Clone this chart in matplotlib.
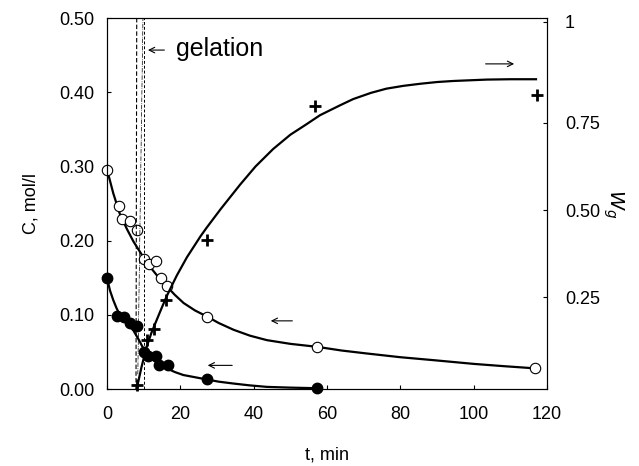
import matplotlib
matplotlib.use("Agg")
import matplotlib.pyplot as plt

plt.rcParams['font.family'] = ['Liberation Sans', 'DejaVu Sans']

# open circles - C (upper)
t_open = [0, 3.3, 4.2, 6.3, 8.2, 10.1, 11.5, 13.4, 14.7, 16.3, 27.4, 57.2, 116.7]
c_open = [0.296, 0.247, 0.229, 0.227, 0.214, 0.176, 0.168, 0.173, 0.150, 0.139, 0.097, 0.057, 0.028]

# filled circles - C (lower)
t_fill = [0, 2.8, 4.5, 6.3, 8.2, 10.1, 11.3, 13.4, 14.3, 16.5, 27.4, 57.3]
c_fill = [0.150, 0.098, 0.097, 0.089, 0.085, 0.050, 0.045, 0.045, 0.032, 0.032, 0.013, 0.001]

# crosses - gel fraction W_g
t_plus = [8.2, 10.9, 12.8, 16.1, 27.2, 56.7, 117.3]
w_plus = [0.0, 0.127, 0.159, 0.241, 0.413, 0.799, 0.83]

# fitted curves
t_fit1 = [0, 1.7, 3.5, 5.4, 7.2, 9.5, 11.7, 14, 16.4, 18.5, 20.9, 24, 27.2, 30.5, 34.5, 39, 43.6, 50, 57.3, 64, 70.9, 80, 89.1, 100, 108, 116.7]
c_fit1 = [0.296, 0.264, 0.236, 0.216, 0.199, 0.181, 0.165, 0.151, 0.138, 0.127, 0.116, 0.106, 0.098, 0.089, 0.080, 0.072, 0.066, 0.061, 0.057, 0.052, 0.048, 0.043, 0.039, 0.034, 0.031, 0.028]

t_fit2 = [0, 0.8, 1.7, 2.6, 3.5, 5.3, 7.2, 8.6, 9.9, 11.2, 12.6, 14.4, 16.3, 18.5, 20.8, 24, 27.2, 30.5, 34.5, 39, 43.6, 50, 57.3]
c_fit2 = [0.150, 0.133, 0.120, 0.109, 0.100, 0.089, 0.079, 0.067, 0.055, 0.046, 0.039, 0.033, 0.028, 0.023, 0.019, 0.016, 0.013, 0.010, 0.0075, 0.005, 0.003, 0.002, 0.0012]

t_fit3 = [8.1, 9.4, 10.8, 12.1, 13.5, 15, 16.4, 19, 21.8, 25.5, 27.2, 31, 36.3, 40.5, 45.3, 50, 54.4, 58.1, 63.5, 67.1, 72, 76.2, 80.8, 85.4, 90, 94.4, 99, 103.6, 110, 117]
w_fit3 = [-0.012, 0.05, 0.108, 0.148, 0.184, 0.222, 0.256, 0.312, 0.365, 0.425, 0.45, 0.503, 0.573, 0.625, 0.675, 0.716, 0.746, 0.772, 0.800, 0.818, 0.836, 0.848, 0.856, 0.862, 0.867, 0.870, 0.872, 0.874, 0.875, 0.875]

fig = plt.figure(figsize=(6.39, 4.66), dpi=100)
ax = fig.add_axes([0.1675, 0.165, 0.6885, 0.796])
ax2 = ax.twinx()

ax.plot(t_fit1, c_fit1, 'k-', lw=1.6)
ax.plot(t_fit2, c_fit2, 'k-', lw=1.6)
ax.plot(t_open, c_open, 'o', mfc='white', mec='k', mew=0.8, ms=7.5, clip_on=False)
ax.plot(t_fill, c_fill, 'o', color='k', ms=7.5, clip_on=False)

ax2.plot(t_fit3, w_fit3, 'k-', lw=1.6)
ax2.plot(t_plus, w_plus, 'k+', ms=8, mew=2, clip_on=False)

# gelation region lines
ax.plot([7.9, 8.1], [0.0, 0.5], 'k--', lw=0.8, dashes=(4, 2))
ax.plot([10.1, 10.1], [0.0, 0.5], 'k--', lw=0.7, dashes=(3, 2))
ax.plot([8.4, 9.8], [0.02, 0.5], 'k-.', lw=0.5)

ax.annotate('', xy=(10.4, 0.457), xytext=(16.4, 0.457),
            arrowprops=dict(arrowstyle='->', lw=0.8, color='k'))
ax.text(18.8, 0.459, 'gelation', fontsize=18, va='center', ha='left')

# direction arrows
ax2.annotate('', xy=(111.8, 0.919), xytext=(102.5, 0.919),
             arrowprops=dict(arrowstyle='->', lw=0.8, color='k'))
ax.annotate('', xy=(43.9, 0.092), xytext=(51.3, 0.092),
            arrowprops=dict(arrowstyle='->', lw=0.8, color='k'))
ax.annotate('', xy=(26.7, 0.032), xytext=(34.9, 0.032),
            arrowprops=dict(arrowstyle='->', lw=0.8, color='k'))

ax.set_xlim(0, 120)
ax.set_ylim(0, 0.5)
ax.set_xticks([0, 20, 40, 60, 80, 100, 120])
ax.set_yticks([0, 0.1, 0.2, 0.3, 0.4, 0.5])
ax.set_yticklabels(['0.00', '0.10', '0.20', '0.30', '0.40', '0.50'])
ax.tick_params(direction='in', length=3, labelsize=13, pad=9)
ax.tick_params(axis='x', pad=12)

ax2.set_ylim(-0.013, 1.05)
ax2.set_yticks([0.25, 0.5, 0.75, 1.04])
ax2.set_yticklabels(['0.25', '0.50', '0.75', '1'])
ax2.tick_params(direction='in', length=3, labelsize=13, pad=13)

ax.set_xlabel('t, min', fontsize=13, labelpad=17)
ax.set_ylabel('C, mol/l', fontsize=13, labelpad=14)
ax2.set_ylabel('$W_g$', fontsize=14, rotation=270, labelpad=18)

fig.savefig('out.png', dpi=100)
